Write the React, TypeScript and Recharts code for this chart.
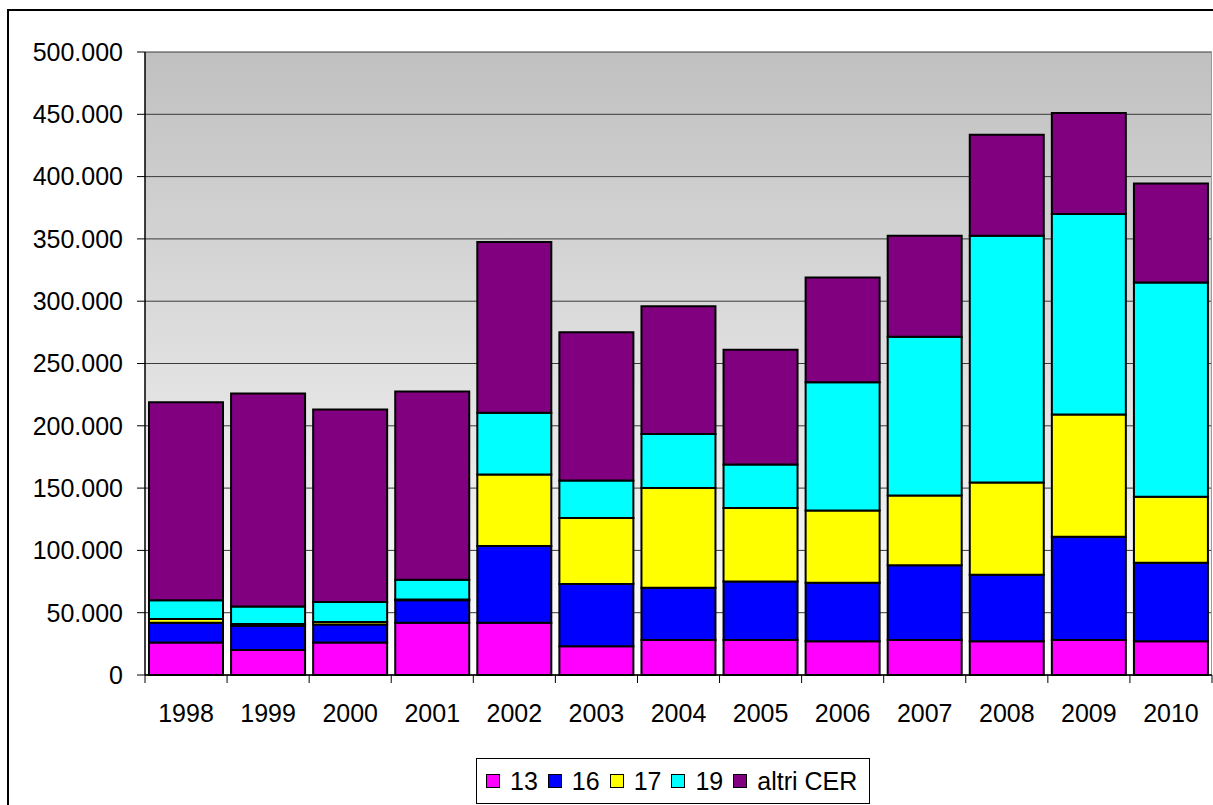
import React from "react";
import { Bar, BarChart, CartesianGrid, XAxis, YAxis } from "recharts";

const years = ["1998", "1999", "2000", "2001", "2002", "2003", "2004", "2005", "2006", "2007", "2008", "2009", "2010"];
const cer13 = [26000, 20000, 26000, 42000, 42000, 23000, 28000, 28000, 27000, 28000, 27000, 28000, 27000];
const cer16 = [16000, 19500, 14500, 18000, 61500, 50000, 42000, 47000, 47000, 60000, 53500, 83000, 63000];
const cer17 = [3000, 1500, 2000, 500, 57500, 53000, 80000, 59000, 58000, 56000, 74000, 98000, 53000];
const cer19 = [15000, 14000, 16000, 16000, 49500, 30000, 43500, 35000, 103000, 127500, 198000, 161000, 172000];
const altriCer = [159000, 171000, 154500, 151000, 137000, 119000, 102500, 92000, 84000, 81000, 81000, 81000, 79500];
const yTicks = [0, 50000, 100000, 150000, 200000, 250000, 300000, 350000, 400000, 450000, 500000];

const SERIES = [
  { key: "c13", name: "13", color: "#ff00ff" },
  { key: "c16", name: "16", color: "#0000ff" },
  { key: "c17", name: "17", color: "#ffff00" },
  { key: "c19", name: "19", color: "#00ffff" },
  { key: "altri", name: "altri CER", color: "#800080" },
];

const rows = years.map((year, i) => ({
  year,
  c13: cer13[i],
  c16: cer16[i],
  c17: cer17[i],
  c19: cer19[i],
  altri: altriCer[i],
}));

const FONT = '"Liberation Sans", Arial, sans-serif';
const FS = 25;
const W = 1213;
const H = 805;
const PLOT_LEFT = 145;
const PLOT_RIGHT = 1212;
const BAND = (PLOT_RIGHT - PLOT_LEFT) / years.length;

const fmt = (v: number) => String(v).replace(/\B(?=(\d{3})+(?!\d))/g, ".");

function XTick(props: any) {
  const { x, y, payload, index } = props;
  const last = index === years.length - 1;
  return (
    <g>
      <line x1={x - BAND / 2} x2={x - BAND / 2} y1={y} y2={y + 8} stroke="#000" />
      {last && <line x1={x + BAND / 2} x2={x + BAND / 2} y1={y} y2={y + 8} stroke="#000" />}
      <text x={x} y={y + 47} textAnchor="middle" fontSize={FS} fontFamily={FONT} fill="#000">
        {payload.value}
      </text>
    </g>
  );
}

export default function App() {
  return (
    <div style={{ position: "absolute", left: 0, top: 0, width: W, height: H, overflow: "hidden", background: "#fff" }}>
      <div
        style={{
          position: "absolute",
          left: 7,
          top: 9,
          width: W + 20,
          height: H + 20,
          border: "2px solid #000",
        }}
      />
      <div style={{ position: "absolute", left: 0, top: 0 }}>
        <BarChart
          width={W}
          height={H}
          data={rows}
          margin={{ top: 52, right: W - PLOT_RIGHT, bottom: 0, left: 0 }}
          barCategoryGap={4}
        >
          <defs>
            <linearGradient id="plotBg" x1="0" y1="0" x2="0" y2="1">
              <stop offset="0%" stopColor="#c0c0c0" />
              <stop offset="100%" stopColor="#ffffff" />
            </linearGradient>
          </defs>
          <CartesianGrid fill="url(#plotBg)" stroke="#3a3a3a" vertical={false} />
          <CartesianGrid horizontal={false} verticalPoints={[PLOT_RIGHT - 0.5]} stroke="#9a9a9a" fill="none" />
          <XAxis
            dataKey="year"
            axisLine={{ stroke: "#000", strokeWidth: 1.5 }}
            tickLine={false}
            tickSize={0}
            tickMargin={0}
            interval={0}
            height={130}
            tick={<XTick />}
          />
          <YAxis
            width={PLOT_LEFT}
            domain={[0, 500000]}
            ticks={yTicks}
            interval={0}
            tickFormatter={fmt}
            axisLine={{ stroke: "#000", strokeWidth: 1.5 }}
            tickLine={{ stroke: "#000" }}
            tickSize={8}
            tickMargin={14}
            tick={{ fontSize: FS, fontFamily: FONT, fill: "#000" }}
          />
          {SERIES.map((s) => (
            <Bar
              key={s.key}
              dataKey={s.key}
              name={s.name}
              stackId="a"
              fill={s.color}
              stroke="#000"
              strokeWidth={2}
              isAnimationActive={false}
            />
          ))}
        </BarChart>
      </div>
      <div
        style={{
          position: "absolute",
          left: 476,
          top: 758,
          width: 394,
          height: 46,
          boxSizing: "border-box",
          border: "1px solid #000",
          display: "flex",
          alignItems: "center",
          paddingLeft: 9,
          fontFamily: FONT,
          fontSize: FS,
          color: "#000",
          background: "#fff",
        }}
      >
        {SERIES.map((s) => (
          <span key={s.key} style={{ display: "flex", alignItems: "center", marginRight: 10 }}>
            <span
              style={{
                display: "inline-block",
                width: 14,
                height: 14,
                boxSizing: "border-box",
                background: s.color,
                border: "1.5px solid #000",
                marginRight: 10,
              }}
            />
            <span>{s.name}</span>
          </span>
        ))}
      </div>
    </div>
  );
}
